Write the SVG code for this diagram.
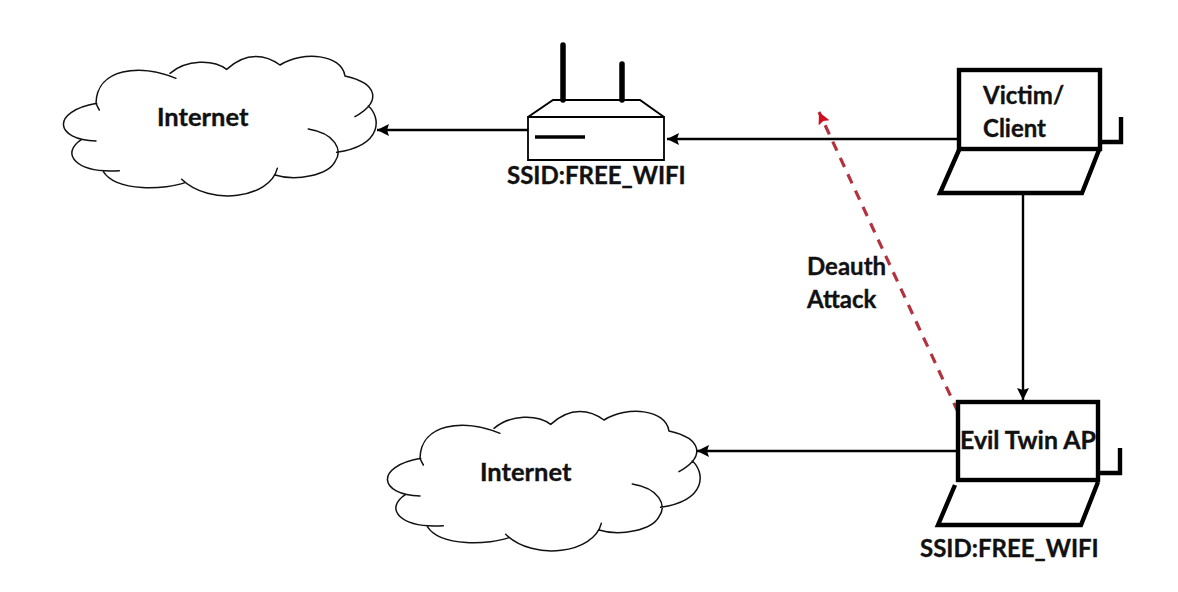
<svg xmlns="http://www.w3.org/2000/svg" xmlns:xlink="http://www.w3.org/1999/xlink" width="1178" height="592" viewBox="0 0 1178 592">
<style>
.t{font-family:"Lato","Liberation Sans",sans-serif;font-weight:700;font-size:24px;fill:#111;stroke:#111;stroke-width:.35}
.i{font-size:25.5px}
.e{font-size:24.9px}
.c{fill:none;stroke:#111;stroke-width:4.5;stroke-linecap:round}
.b{fill:none;stroke:#000;stroke-width:2}
.k{fill:none;stroke:#000;stroke-width:4.4;stroke-linejoin:miter}
.l{fill:none;stroke:#000;stroke-width:2.4}
</style>
<defs>
<path id="cloud" d="M178 240Q172 230 168 220C170 115 300 100 408 145M390 130C440 88 520 88 560 118C620 62 680 75 720 105C790 62 905 72 915 138C1015 160 1025 215 945 260M985 228C1022 260 1032 345 890 367M805 297C885 310 910 360 885 395C865 435 770 455 705 435M712 415C690 505 510 530 425 448M435 458C380 478 230 488 190 425M238 422C105 430 60 370 125 328M168 333C45 330 30 245 170 220"/>
<marker id="ah" markerUnits="userSpaceOnUse" markerWidth="14" markerHeight="14" refX="12" refY="7" orient="auto"><path d="M0 1L12 7L0 13L2 7Z" fill="#000"/></marker>
<marker id="rh" markerUnits="userSpaceOnUse" markerWidth="14" markerHeight="14" refX="12" refY="7" orient="auto"><path d="M0 1L12 7L0 13L2 7Z" fill="#d01020"/></marker>
</defs>
<rect width="1178" height="592" fill="#fff"/>
<g id="connectors">
<path class="l" d="M528 130H377" marker-end="url(#ah)"/>
<path class="l" d="M958 139H667" marker-end="url(#ah)"/>
<path class="l" d="M1023 194V400" marker-end="url(#ah)"/>
<path class="l" d="M958 451H697" marker-end="url(#ah)"/>
<path d="M958 412L819 112" fill="none" stroke="#b2323f" stroke-width="3.2" stroke-dasharray="10 8" marker-end="url(#rh)"/>
</g>
<g id="cloud-internet-1">
<use xlink:href="#cloud" href="#cloud" class="c" transform="translate(40 30) scale(.3333)"/>
<text class="t i" x="157" y="126">Internet</text>
</g>
<g id="router">
<path d="M528 117H664V160H528Z" fill="#fff" stroke="#000" stroke-width="1.8"/>
<path class="b" d="M528 117L553 100H640L664 117"/>
<path d="M563 100V45M622 100V64" fill="none" stroke="#000" stroke-width="5.5" stroke-linecap="round"/>
<path d="M535 137H585" stroke="#000" stroke-width="3.5"/>
<text class="t" x="507" y="184">SSID:FREE_WIFI</text>
</g>
<g id="victim-client">
<rect class="k" x="959" y="70" width="141" height="79"/>
<path class="k" d="M959 150L940 193H1082L1099 150M1100 142H1121V117"/>
<text class="t" x="983" y="104">Victim/</text>
<text class="t" x="983" y="137">Client</text>
</g>
<g id="evil-twin-ap">
<rect class="k" x="958" y="402" width="140" height="78"/>
<path class="k" d="M955 485L938 525H1081L1098 482M1100 473H1120V448"/>
<text class="t e" x="960" y="449">Evil Twin AP</text>
<text class="t" x="920" y="557">SSID:FREE_WIFI</text>
</g>
<g id="cloud-internet-2">
<use xlink:href="#cloud" href="#cloud" class="c" transform="translate(364 385) scale(.3333)"/>
<text class="t i" x="480" y="481">Internet</text>
</g>
<g id="deauth-label">
<text class="t" x="807" y="275">Deauth</text>
<text class="t" x="807" y="308">Attack</text>
</g>
</svg>
